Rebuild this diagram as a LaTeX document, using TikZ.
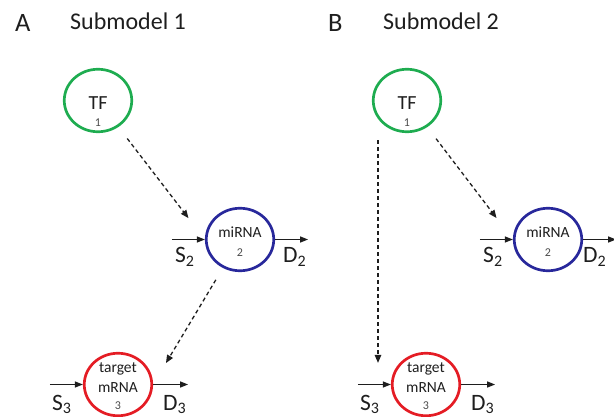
\documentclass[tikz,border=0pt]{standalone}
\usepackage{fontspec}
\setmainfont{Carlito}
\usetikzlibrary{arrows.meta,shapes.geometric}
\definecolor{cgreen}{RGB}{30,172,80}
\definecolor{cblue}{RGB}{40,40,155}
\definecolor{cred}{RGB}{228,28,36}
\definecolor{textc}{RGB}{30,30,30}
\definecolor{idxc}{RGB}{75,75,75}
\newcommand{\mysub}[1]{{\fontsize{16}{16}\selectfont\raisebox{-3.5pt}{#1}}}
\begin{document}
\begin{tikzpicture}[x=1pt,y=-1pt,
  blob/.style={ellipse,draw,line width=2.7pt,minimum width=67.5pt,minimum height=62.5pt,inner sep=0pt},
  head/.style={anchor=base west,inner sep=0pt,text=textc,font=\fontsize{24}{28}\selectfont},
  letter/.style={anchor=base west,inner sep=0pt,text=textc,font=\fontsize{26.5}{30}\selectfont},
  inlbl/.style={anchor=base,inner sep=0pt,text=textc,font=\fontsize{15.5}{18}\selectfont},
  tflbl/.style={anchor=base,inner sep=0pt,text=textc,font=\fontsize{20}{24}\selectfont},
  idx/.style={anchor=base,inner sep=0pt,text=idxc,font=\fontsize{12}{14}\selectfont},
  side/.style={anchor=base west,inner sep=0pt,text=textc,font=\fontsize{23.5}{28}\selectfont},
  flow/.style={line width=1.3pt,textc,-{Triangle[length=8pt,width=6pt]}},
  reg/.style={line width=1.3pt,textc,dash pattern=on 4pt off 3pt,-{Triangle[length=8pt,width=6.5pt]}}
]
\useasboundingbox (0,0) rectangle (614,417);

% headings
\node[letter] (hA) at (15,32) {A};
\node[head] (tA) at (70,30) {Submodel 1};
\node[letter] (hB) at (328,32) {B};
\node[head] (tB) at (383,30) {Submodel 2};

% ---------- Submodel 1 ----------
\node[blob,draw=cgreen] (tfA) at (98,100.5) {};
\node[tflbl] (tfAt) at (98,110) {TF};
\node[idx] (tfAi) at (98,127) {1};

\node[blob,draw=cblue] (miA) at (240,239.5) {};
\node[inlbl] (miAt) at (240,238) {miRNA};
\node[idx] (miAi) at (240,257) {2};

\node[blob,draw=cred] (taA) at (118,384.5) {};
\node[inlbl] (taAt) at (118,372) {target};
\node[inlbl] (taAm) at (118,392) {mRNA};
\node[idx] (taAi) at (118,409) {3};

\draw[reg,shorten <=48pt,shorten >=27pt] (tfA.center) -- (miA.west);
\draw[reg,shorten <=47pt,shorten >=25pt] (miA.center) -- (taA.east);

\draw[flow] ([xshift=-33pt]miA.west) -- (miA.west);
\draw[flow] (miA.east) -- ([xshift=33pt]miA.east);
\draw[flow] ([xshift=-33pt]taA.west) -- (taA.west);
\draw[flow] (taA.east) -- ([xshift=35pt]taA.east);

\node[side] (s2A) at (175,263) {S\mysub{2}};
\node[side] (d2A) at (283,263) {D\mysub{2}};
\node[side] (s3A) at (52,410) {S\mysub{3}};
\node[side] (d3A) at (163,410) {D\mysub{3}};

% ---------- Submodel 2 ----------
\node[blob,draw=cgreen] (tfB) at (407,100.5) {};
\node[tflbl] (tfBt) at (407,110) {TF};
\node[idx] (tfBi) at (407,127) {1};

\node[blob,draw=cblue] (miB) at (548,239.5) {};
\node[inlbl] (miBt) at (548,238) {miRNA};
\node[idx] (miBi) at (548,257) {2};

\node[blob,draw=cred] (taB) at (426,384.5) {};
\node[inlbl] (taBt) at (426,372) {target};
\node[inlbl] (taBm) at (426,392) {mRNA};
\node[idx] (taBi) at (426,409) {3};

\draw[reg,shorten <=48pt,shorten >=27pt] (tfB.center) -- (miB.west);
\draw[reg] ([xshift=-29pt,yshift=-7pt]tfB.south) -- ([xshift=-48pt,yshift=-11pt]taB.north);

\draw[flow] ([xshift=-33pt]miB.west) -- (miB.west);
\draw[flow] (miB.east) -- ([xshift=33pt]miB.east);
\draw[flow] ([xshift=-33pt]taB.west) -- (taB.west);
\draw[flow] (taB.east) -- ([xshift=34pt]taB.east);

\node[side] (s2B) at (483,263) {S\mysub{2}};
\node[side] (d2B) at (583,263) {D\mysub{2}};
\node[side] (s3B) at (360,410) {S\mysub{3}};
\node[side] (d3B) at (471,410) {D\mysub{3}};
\end{tikzpicture}
\end{document}
